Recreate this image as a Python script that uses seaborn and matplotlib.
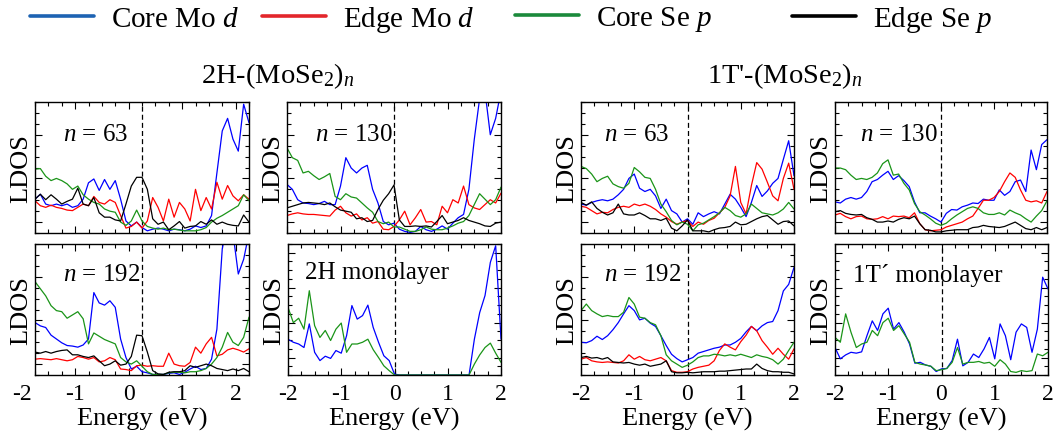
import matplotlib
matplotlib.use("Agg")
import matplotlib.pyplot as plt
from matplotlib.lines import Line2D
from matplotlib.ticker import MultipleLocator, FixedLocator
import seaborn as sns

# ---------------------------------------------------------------------------
# Energy grids (eV)
# ---------------------------------------------------------------------------
energy = [-2.0, -1.9, -1.8, -1.7, -1.6, -1.5, -1.4, -1.3, -1.2, -1.1, -1.0,
          -0.9, -0.8, -0.7, -0.6, -0.5, -0.4, -0.3, -0.2, -0.1, 0.0,
          0.1, 0.2, 0.3, 0.4, 0.5, 0.6, 0.7, 0.8, 0.9, 1.0,
          1.1, 1.2, 1.3, 1.4, 1.5, 1.6, 1.7, 1.8, 1.9, 2.0]
energy_2h = [-1.75, -1.65, -1.55, -1.45, -1.35, -1.25, -1.15, -1.05, -0.95, -0.85, -0.75,
             -0.65, -0.55, -0.45, -0.35, -0.25, -0.15, -0.05, 0.05, 0.15, 0.25,
             0.35, 0.45, 0.55, 0.65, 0.75, 0.85, 0.95, 1.05, 1.15, 1.25,
             1.35, 1.45, 1.55, 1.65, 1.75, 1.85, 1.95, 2.05, 2.15, 2.25]
energy_ticks = [-2, -1, 0, 1, 2]

# Fermi levels (eV)
fermi_2h_63 = 0.25
fermi_2h_130 = 0.0
fermi_2h_192 = 0.25
fermi_2h_mono = 0.0
fermi_1t = 0.0

# ---------------------------------------------------------------------------
# LDOS, 2H-(MoSe2)n
# ---------------------------------------------------------------------------
h63_core_mo = [3.1, 3.55, 2.65, 2.5, 2.65, 2.5, 2.65, 2.35, 2.5, 3.1, 4.6,
               4.95, 3.9, 4.9, 4.0, 4.8, 3.1, 1.1, 0.65, 1.0, 0.5,
               0.2, 0.35, 0.45, 0.35, 0.2, 0.35, 0.3, 0.2, 0.35, 0.65,
               0.5, 0.65, 1.6, 5.5, 9.35, 10.5, 8.6, 7.5, 11.8, 10.1]
h63_edge_mo = [2.95, 2.5, 2.35, 2.55, 2.35, 2.25, 2.1, 2.05, 2.35, 2.65, 2.5,
               3.35, 2.8, 2.65, 3.05, 2.8, 1.6, 0.45, 0.6, 1.0, 0.45,
               1.1, 3.25, 2.35, 1.1, 3.1, 1.45, 2.8, 2.2, 1.1, 4.0,
               2.05, 3.25, 2.2, 4.65, 3.1, 4.35, 3.4, 2.95, 3.5, 3.1]
h63_core_se = [5.85, 5.9, 5.2, 4.8, 5.0, 4.8, 4.5, 4.0, 4.3, 3.5, 3.1,
               2.8, 2.65, 2.2, 2.0, 1.9, 1.0, 0.7, 1.1, 2.1, 1.1,
               0.6, 0.45, 0.35, 0.45, 0.3, 0.35, 0.27, 0.2, 0.2, 0.2,
               0.3, 0.5, 1.0, 1.35, 1.6, 1.9, 2.2, 2.5, 3.5, 2.95]
h63_edge_se = [3.1, 3.55, 3.05, 3.5, 3.1, 2.65, 2.9, 3.1, 4.1, 2.65, 2.5,
               3.25, 1.85, 1.45, 1.45, 1.2, 1.1, 2.65, 4.3, 5.1, 5.1,
               4.0, 1.3, 0.8, 1.0, 0.3, 0.65, 1.05, 0.45, 0.6, 0.65,
               1.05, 0.8, 1.2, 0.8, 1.0, 0.8, 0.7, 0.65, 1.65, 1.0]

h130_core_mo = [4.45, 4.0, 3.05, 2.75, 2.7, 2.6, 2.7, 2.9, 2.6, 2.6, 4.3,
                6.9, 5.95, 5.5, 5.95, 6.2, 4.0, 2.75, 1.05, 0.75, 0.9,
                0.35, 0.15, 0.05, 0.15, 0.6, 0.3, 0.15, 0.35, 0.65, 0.35,
                0.9, 1.4, 1.7, 4.0, 8.55, 12.3, 13.0, 9.0, 10.5, 13.0]
h130_edge_mo = [1.6, 1.75, 1.85, 1.75, 1.7, 1.7, 1.65, 1.6, 1.55, 2.1, 2.45,
                1.85, 1.55, 1.75, 1.2, 1.4, 0.9, 1.05, 0.35, 0.3, 0.6,
                1.2, 2.0, 0.75, 1.4, 2.15, 1.0, 1.05, 0.75, 2.45, 1.85,
                3.05, 2.75, 4.3, 2.6, 2.3, 2.15, 2.6, 3.05, 2.75, 3.65]
h130_core_se = [7.8, 6.9, 6.65, 5.5, 5.65, 5.25, 4.9, 5.15, 5.45, 3.35, 3.05,
                3.6, 3.3, 3.2, 2.75, 2.3, 1.9, 1.05, 0.85, 1.0, 0.55,
                0.55, 0.35, 0.15, 0.15, 0.3, 0.55, 0.35, 0.3, 0.3, 0.45,
                0.65, 0.9, 1.05, 1.6, 2.6, 3.6, 3.1, 2.6, 3.05, 4.2]
h130_edge_se = [2.3, 2.45, 2.6, 2.75, 2.8, 2.75, 2.7, 2.6, 2.75, 2.4, 2.1,
                2.0, 1.9, 1.3, 1.4, 1.05, 1.15, 2.15, 3.0, 3.6, 4.4,
                1.2, 0.6, 0.6, 0.65, 0.6, 0.65, 0.55, 1.05, 1.6, 0.85,
                1.0, 1.15, 1.4, 1.15, 1.0, 0.85, 0.65, 0.6, 0.9, 1.0]

h192_core_mo = [4.8, 4.5, 4.35, 3.65, 3.3, 2.95, 2.7, 2.65, 2.55, 2.75, 3.3,
                7.55, 6.6, 6.4, 6.8, 6.2, 3.3, 1.6, 0.55, 0.8, 0.3,
                0.2, 0.05, 0.05, 0.05, 0.15, 0.2, 0.05, 0.25, 0.55, 0.8,
                0.5, 0.6, 1.45, 4.2, 11.55, 14.0, 13.0, 9.25, 10.6, 13.0]
h192_edge_mo = [1.45, 1.5, 1.45, 1.4, 1.5, 1.4, 1.3, 1.4, 1.7, 1.6, 1.45,
                1.6, 1.2, 1.3, 1.6, 1.4, 0.55, 0.5, 0.4, 0.85, 0.9,
                0.8, 0.85, 0.8, 0.8, 2.0, 1.0, 0.85, 0.8, 1.15, 2.55,
                2.0, 2.85, 3.45, 1.75, 1.9, 2.3, 2.45, 2.3, 2.1, 2.4]
h192_core_se = [8.55, 7.9, 7.25, 6.35, 5.9, 5.8, 5.2, 5.5, 5.8, 5.15, 2.85,
                3.85, 3.55, 3.25, 3.05, 2.85, 1.6, 1.2, 1.0, 1.3, 0.8,
                0.3, 0.05, 0.05, 0.05, 0.2, 0.25, 0.25, 0.2, 0.3, 0.3,
                0.4, 0.6, 1.0, 1.6, 2.55, 3.9, 3.0, 2.7, 3.45, 5.3]
h192_edge_se = [2.1, 2.0, 2.15, 2.0, 2.15, 2.25, 2.3, 1.85, 1.85, 1.7, 1.6,
                1.75, 1.3, 0.85, 1.0, 1.3, 0.9, 1.0, 1.7, 3.65, 3.6,
                2.1, 0.4, 0.1, 0.05, 0.25, 0.3, 0.3, 0.4, 0.85, 0.7,
                0.85, 1.0, 0.85, 0.6, 0.5, 0.4, 0.55, 0.4, 0.6, 0.3]

h_mono_mo = [4.1, 3.75, 3.55, 3.15, 5.85, 2.6, 1.65, 2.15, 1.9, 2.8, 2.5,
             4.5, 7.95, 6.4, 6.8, 8.0, 5.45, 3.75, 2.2, 1.65, 0.1,
             0.0, 0.0, 0.0, 0.0, 0.0, 0.0, 0.0, 0.0, 0.0, 0.0,
             0.0, 0.0, 0.0, 0.0, 4.1, 7.15, 9.1, 12.9, 14.8, 4.1]
h_mono_se = [7.75, 6.0, 6.5, 5.25, 9.65, 5.65, 4.3, 5.1, 3.95, 5.25, 5.95,
             2.6, 3.55, 3.55, 3.75, 4.1, 2.9, 2.0, 1.05, 0.5, 0.0,
             0.0, 0.0, 0.0, 0.0, 0.0, 0.0, 0.0, 0.0, 0.0, 0.0,
             0.0, 0.0, 0.0, 0.0, 1.25, 2.3, 3.15, 3.65, 2.5, 1.45]

# ---------------------------------------------------------------------------
# LDOS, 1T'-(MoSe2)n
# ---------------------------------------------------------------------------
t63_core_mo = [2.65, 2.55, 2.8, 2.95, 3.05, 2.95, 3.1, 3.5, 4.0, 5.0, 5.4,
               4.1, 3.8, 4.0, 3.4, 2.25, 3.1, 2.05, 1.75, 1.0, 1.3,
               0.8, 1.85, 1.5, 1.75, 1.95, 1.75, 2.65, 3.55, 3.1, 2.35,
               1.5, 2.8, 4.35, 3.35, 3.85, 4.55, 5.0, 6.75, 8.45, 5.25]
t63_edge_mo = [2.45, 2.35, 2.05, 1.75, 1.9, 1.85, 2.15, 2.35, 2.45, 2.35, 2.65,
               2.5, 2.65, 2.45, 2.15, 1.75, 1.45, 1.05, 0.8, 1.0, 1.15,
               0.6, 1.0, 0.8, 1.15, 1.35, 1.85, 2.35, 3.4, 6.1, 2.8,
               1.75, 4.35, 6.45, 5.85, 4.65, 3.4, 2.95, 5.0, 6.4, 4.0]
t63_core_se = [6.1, 5.9, 5.4, 4.7, 5.0, 5.2, 4.5, 4.25, 4.1, 4.55, 6.0,
               5.6, 5.1, 5.0, 4.0, 2.65, 1.95, 1.15, 0.75, 1.0, 0.8,
               0.2, 0.75, 0.9, 1.2, 1.5, 1.85, 2.35, 2.05, 1.6, 1.45,
               1.75, 2.65, 2.25, 1.85, 1.75, 1.65, 1.85, 2.2, 2.8, 2.2]
t63_edge_se = [2.8, 2.55, 2.85, 2.25, 1.9, 1.65, 1.85, 2.65, 1.75, 1.65, 1.65,
               1.85, 1.6, 1.3, 1.3, 1.15, 1.35, 0.45, 0.2, 0.65, 1.2,
               0.2, 0.2, 0.2, 0.1, 0.3, 0.45, 0.5, 0.6, 1.0, 0.75,
               0.8, 1.05, 1.3, 1.5, 1.6, 1.2, 0.8, 1.05, 1.1, 0.65]

t130_core_mo = [2.85, 2.75, 3.1, 3.25, 3.1, 3.25, 3.8, 4.7, 4.9, 5.3, 5.65,
                4.9, 5.25, 4.8, 4.25, 2.85, 1.85, 1.85, 1.55, 1.3, 1.0,
                1.8, 2.15, 2.1, 2.4, 2.55, 2.75, 2.7, 3.1, 3.0, 3.0,
                3.95, 3.45, 3.8, 4.7, 4.85, 3.8, 7.6, 5.8, 8.1, 8.55]
t130_edge_mo = [1.65, 1.8, 1.5, 1.3, 1.5, 1.55, 1.3, 1.25, 1.3, 1.5, 1.3,
                1.55, 1.5, 1.55, 1.4, 1.85, 0.85, 0.3, 0.2, 0.25, 0.3,
                0.55, 0.7, 0.85, 1.0, 1.3, 1.55, 2.25, 3.0, 3.0, 3.25,
                3.8, 4.7, 5.5, 5.1, 3.95, 3.0, 2.85, 2.95, 2.75, 3.8]
t130_core_se = [5.95, 5.95, 5.8, 5.3, 4.9, 5.0, 4.9, 5.1, 5.5, 6.35, 6.7,
                5.3, 5.4, 4.55, 3.95, 2.7, 1.95, 1.65, 1.3, 0.9, 0.7,
                0.9, 1.3, 1.65, 1.95, 2.25, 2.4, 2.25, 1.85, 1.7, 1.7,
                1.85, 1.65, 2.1, 1.85, 1.65, 1.3, 1.0, 1.55, 2.05, 2.95]
t130_edge_se = [1.95, 2.05, 1.8, 1.7, 1.65, 1.7, 1.4, 1.25, 1.0, 1.0, 1.1,
                1.0, 1.25, 1.4, 1.3, 1.55, 0.85, 0.3, 0.25, 0.1, 0.1,
                0.2, 0.25, 0.3, 0.3, 0.3, 0.5, 0.55, 0.7, 0.6, 0.55,
                0.5, 0.6, 0.8, 1.0, 0.7, 0.4, 0.3, 0.5, 0.3, 0.5]

t192_core_mo = [3.0, 2.95, 3.15, 3.55, 3.25, 3.6, 4.15, 4.8, 5.6, 6.35, 5.9,
                5.05, 5.2, 4.75, 4.45, 3.6, 2.7, 1.9, 1.5, 1.2, 1.4,
                1.6, 2.0, 2.15, 2.3, 2.45, 2.55, 2.75, 2.75, 3.0, 3.35,
                3.95, 4.45, 4.05, 4.5, 4.8, 4.9, 5.9, 7.7, 8.3, 9.85]
t192_edge_mo = [1.45, 1.6, 1.3, 1.2, 1.15, 1.2, 1.15, 1.1, 1.3, 1.85, 1.45,
                1.7, 1.4, 1.3, 1.45, 1.6, 1.3, 0.4, 0.25, 0.25, 0.3,
                0.55, 0.7, 0.8, 0.9, 1.3, 2.25, 2.85, 2.55, 2.3, 3.05,
                3.65, 4.45, 4.05, 3.15, 2.55, 1.9, 2.45, 1.9, 1.45, 2.4]
t192_core_se = [5.9, 6.5, 5.9, 5.6, 5.35, 5.45, 5.35, 5.35, 5.75, 7.1, 6.5,
                5.3, 5.2, 4.8, 4.6, 3.6, 1.85, 1.3, 1.0, 0.7, 0.9,
                1.2, 1.6, 1.75, 1.75, 1.9, 1.85, 1.75, 1.85, 1.75, 1.9,
                1.75, 1.6, 1.85, 1.7, 1.6, 1.4, 1.0, 1.45, 2.25, 3.0]
t192_edge_se = [1.6, 1.7, 1.55, 1.6, 1.45, 1.6, 1.2, 1.15, 1.1, 1.15, 1.0,
                0.9, 1.0, 0.8, 0.9, 1.0, 1.3, 0.3, 0.2, 0.2, 0.25,
                0.2, 0.25, 0.3, 0.3, 0.3, 0.35, 0.35, 0.4, 0.45, 0.5,
                0.55, 0.55, 1.0, 0.6, 0.4, 0.3, 0.3, 0.25, 0.25, 0.1]

t_mono_mo = [3.15, 1.85, 2.3, 2.6, 2.5, 2.65, 4.5, 6.2, 5.1, 7.0, 7.65,
             5.25, 6.0, 4.9, 3.55, 1.35, 1.45, 1.15, 1.0, 0.4, 0.7,
             0.75, 1.65, 4.1, 1.05, 1.45, 2.4, 2.0, 3.0, 4.3, 1.85,
             5.85, 4.5, 1.75, 4.9, 5.85, 5.45, 2.6, 5.25, 11.2, 9.85]
t_mono_se = [4.3, 3.75, 7.0, 4.9, 3.15, 3.55, 3.75, 5.1, 4.5, 6.0, 6.5,
             5.1, 5.65, 4.7, 3.75, 1.45, 1.25, 1.15, 1.0, 0.5, 0.6,
             0.75, 1.45, 3.15, 1.25, 1.45, 1.45, 1.55, 1.35, 1.45, 1.0,
             1.75, 1.25, 0.4, 0.3, 0.5, 0.4, 0.5, 2.4, 2.2, 2.6]

series_names = [r"Core Mo $d$", r"Edge Mo $d$", r"Core Se $p$", r"Edge Se $p$"]

# ---------------------------------------------------------------------------
# Styling
# ---------------------------------------------------------------------------
sns.set_theme(style="ticks", rc={
    "axes.edgecolor": "black",
    "axes.linewidth": 1.0,
    "text.color": "black",
    "axes.labelcolor": "black",
    "xtick.color": "black",
    "ytick.color": "black",
})
plt.rcParams["font.family"] = ["Liberation Serif", "DejaVu Serif"]
plt.rcParams["mathtext.fontset"] = "custom"
plt.rcParams["mathtext.rm"] = "Liberation Serif"
plt.rcParams["mathtext.it"] = "Liberation Serif:italic"
plt.rcParams["axes.unicode_minus"] = False

line_colors = ["#0000ff", "#ff0000", "#1a9418", "#000000"]
legend_colors = ["#1d63b3", "#e3262b", "#1b8a3b", "#000000"]

W, H = 1058, 435
TICK_PAD = 6.0
TICK_SIZE = 17
LABEL_SIZE = 19


def frame(l, t, r, b):
    return [l / W, 1 - b / H, (r - l) / W, (b - t) / H]


panels = [
    dict(x=energy_2h, ys=[h63_core_mo, h63_edge_mo, h63_core_se, h63_edge_se],
         fermi=fermi_2h_63, text=r"$n$ = 63", tx=0.13, ty=0.755,
         rect=(35, 103, 249, 234), ymax=12, bottom=False),
    dict(x=energy, ys=[h130_core_mo, h130_edge_mo, h130_core_se, h130_edge_se],
         fermi=fermi_2h_130, text=r"$n$ = 130", tx=0.13, ty=0.755,
         rect=(287, 103, 501, 234), ymax=12, bottom=False),
    dict(x=energy_2h, ys=[h192_core_mo, h192_edge_mo, h192_core_se, h192_edge_se],
         fermi=fermi_2h_192, text=r"$n$ = 192", tx=0.13, ty=0.77,
         rect=(35, 245, 249, 376), ymax=12, bottom=True),
    dict(x=energy, ys=[h_mono_mo, None, h_mono_se, None],
         fermi=fermi_2h_mono, text="2H monolayer", tx=0.08, ty=0.79,
         rect=(288, 245, 501, 376), ymax=15, bottom=True),
    dict(x=energy, ys=[t63_core_mo, t63_edge_mo, t63_core_se, t63_edge_se],
         fermi=fermi_1t, text=r"$n$ = 63", tx=0.11, ty=0.755,
         rect=(581, 103, 794, 234), ymax=12, bottom=False),
    dict(x=energy, ys=[t130_core_mo, t130_edge_mo, t130_core_se, t130_edge_se],
         fermi=fermi_1t, text=r"$n$ = 130", tx=0.12, ty=0.755,
         rect=(835, 103, 1047, 234), ymax=12, bottom=False),
    dict(x=energy, ys=[t192_core_mo, t192_edge_mo, t192_core_se, t192_edge_se],
         fermi=fermi_1t, text=r"$n$ = 192", tx=0.11, ty=0.77,
         rect=(581, 245, 794, 376), ymax=12, bottom=True),
    dict(x=energy, ys=[t_mono_mo, None, t_mono_se, None],
         fermi=fermi_1t, text="1T\u00b4 monolayer", tx=0.085, ty=0.77,
         rect=(835, 245, 1048, 376), ymax=15, bottom=True),
]

fig = plt.figure(figsize=(W / 100, H / 100), dpi=100)

for p in panels:
    ax = fig.add_axes(frame(*p["rect"]))
    ax.axvline(p["fermi"], color="black", lw=0.9, ls=(0, (4, 2.5)), zorder=1)
    for y, c in zip(p["ys"], line_colors):
        if y is None:
            continue
        sns.lineplot(x=p["x"], y=y, color=c, lw=0.9, ax=ax, legend=False,
                     estimator=None, sort=False, zorder=2)

    ax.set_xlim(p["x"][0], p["x"][-1])
    ax.set_ylim(0, p["ymax"])

    # x ticks: labelled every 1 eV, minor every 0.25 eV
    ax.xaxis.set_major_locator(FixedLocator(energy_ticks))
    ax.xaxis.set_minor_locator(MultipleLocator(0.25))
    ax.set_xticklabels([str(v) for v in energy_ticks])
    if p["ymax"] == 12:
        ax.yaxis.set_major_locator(FixedLocator([1, 5, 9]))
    else:
        ax.yaxis.set_major_locator(FixedLocator([2, 6, 10, 14]))
    ax.yaxis.set_minor_locator(MultipleLocator(1))
    ax.tick_params(which="both", direction="in", top=True, right=True,
                   left=True, bottom=True, labelleft=False, width=0.8,
                   labelbottom=p["bottom"], labelsize=TICK_SIZE, pad=TICK_PAD)
    ax.tick_params(which="major", length=5)
    ax.tick_params(which="minor", length=3)

    ax.set_ylabel("LDOS", fontsize=LABEL_SIZE, labelpad=2)
    if p["bottom"]:
        ax.set_xlabel("Energy (eV)", fontsize=LABEL_SIZE, labelpad=2)
        # the -2 eV label sits left of the shifted window
        if p["x"][0] > energy_ticks[0]:
            ax.annotate(str(energy_ticks[0]), xy=(energy_ticks[0], 0),
                        xycoords=ax.get_xaxis_transform(),
                        xytext=(0, -TICK_PAD), textcoords="offset points",
                        ha="center", va="top", fontsize=TICK_SIZE,
                        annotation_clip=False)
    else:
        ax.set_xlabel("")

    ax.text(p["tx"], p["ty"], p["text"], transform=ax.transAxes,
            fontsize=18, ha="left", va="center")

# group titles
fig.text(278 / W, 1 - 76 / H, r"2H-(MoSe$_2$)$_n$", ha="center", va="center",
         fontsize=20.5)
fig.text(785 / W, 1 - 76 / H, r"1T'-(MoSe$_2$)$_n$", ha="center", va="center",
         fontsize=20.5)

# legend row across the top
legend_x = [30, 262, 515, 792]
for name, col, lx in zip(series_names, legend_colors, legend_x):
    fig.legend(handles=[Line2D([], [], color=col, lw=2.6)], labels=[name],
               loc="center left", bbox_to_anchor=(lx / W, 1 - 20 / H),
               frameon=False, fontsize=21, handlelength=2.2,
               handletextpad=0.58, borderpad=0, borderaxespad=0)

fig.savefig("out.png", dpi=100)
